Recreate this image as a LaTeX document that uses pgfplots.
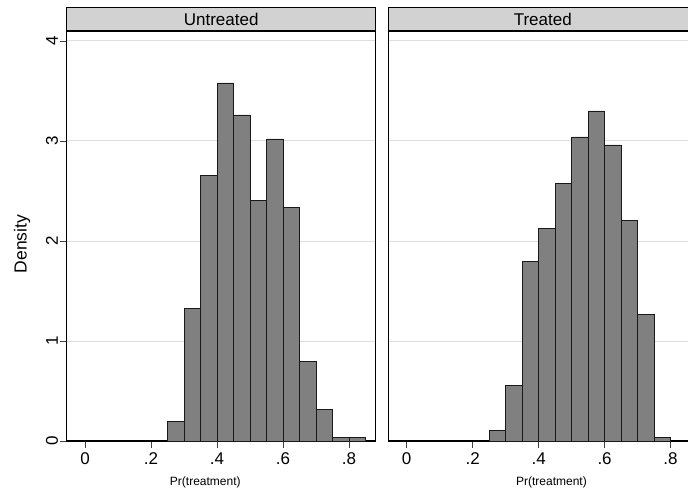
\documentclass[border=0pt]{standalone}
\usepackage{pgfplots}
\pgfplotsset{compat=1.18}
\usepackage{fontspec}
\setmainfont{Liberation Sans}
\definecolor{barfill}{RGB}{128,128,128}
\definecolor{stripfill}{RGB}{210,210,210}
\definecolor{gridc}{RGB}{222,222,222}
\pgfplotsset{
  panel/.style={
    scale only axis, width=309pt, height=410pt,
    xmin=-0.0557, xmax=0.881, ymin=0, ymax=4.1,
    axis line style={line width=1.1pt, black},
    xtick={0,0.2,0.4,0.6,0.8},
    xticklabels={0,.2,.4,.6,.8},
    ytick={0,1,2,3,4},
    xtick pos=bottom, ytick pos=left,
    tick align=outside,
    major tick length=6.5pt,
    tick style={line width=0.9pt, black!75},
    ymajorgrids, grid style={line width=1pt, gridc},
    /pgf/number format/assume math mode=true,
    ticklabel style={font=\fontsize{17}{18}\selectfont},
    xticklabel style={inner sep=2pt, yshift=-3pt},
    xlabel style={font=\fontsize{12}{14}\selectfont, anchor=center},
  },
  hist/.style={ybar interval, fill=barfill, draw=black!90, line width=0.9pt},
}
\begin{document}
\begin{tikzpicture}[x=1pt,y=1pt]
\begin{axis}[panel, name=ax1, at={(66.7pt,50pt)}, anchor=south west,
  yticklabel style={rotate=90, anchor=south, inner sep=2pt},
  xlabel={Pr(treatment)},
  xlabel style={at={(axis description cs:0.4485,0)}, yshift=-41pt}]
\addplot[hist] coordinates {
(0.25,0.197) (0.30,1.327) (0.35,2.66) (0.40,3.58) (0.45,3.26) (0.50,2.41)
(0.55,3.02) (0.60,2.34) (0.65,0.80) (0.70,0.317) (0.75,0.037) (0.80,0.037) (0.85,0.037)};
\end{axis}
\begin{axis}[panel, name=ax2, at={(388.3pt,50pt)}, anchor=south west,
  yticklabels={}, y tick style={draw=none},
  xlabel={Pr(treatment)},
  xlabel style={at={(axis description cs:0.528,0)}, yshift=-41pt}]
\addplot[hist] coordinates {
(0.25,0.107) (0.30,0.56) (0.35,1.80) (0.40,2.127) (0.45,2.58) (0.50,3.04)
(0.55,3.30) (0.60,2.96) (0.65,2.21) (0.70,1.27) (0.75,0.033) (0.80,0.033)};
\end{axis}
\draw[fill=stripfill, line width=1.2pt] (ax1.north west) rectangle ([yshift=23.4pt]ax1.north east);
\node[font=\fontsize{17}{19}\selectfont] at ([yshift=11.2pt]ax1.north) {Untreated};
\draw[fill=stripfill, line width=1.2pt] (ax2.north west) rectangle ([yshift=23.4pt]ax2.north east);
\node[font=\fontsize{17}{19}\selectfont] at ([yshift=11.2pt]ax2.north) {Treated};
\node[rotate=90, font=\fontsize{17.5}{19}\selectfont] at (22pt,247pt) {Density};
\pgfresetboundingbox
\path[use as bounding box] (0,0) rectangle (688pt,491pt);
\end{tikzpicture}
\end{document}
